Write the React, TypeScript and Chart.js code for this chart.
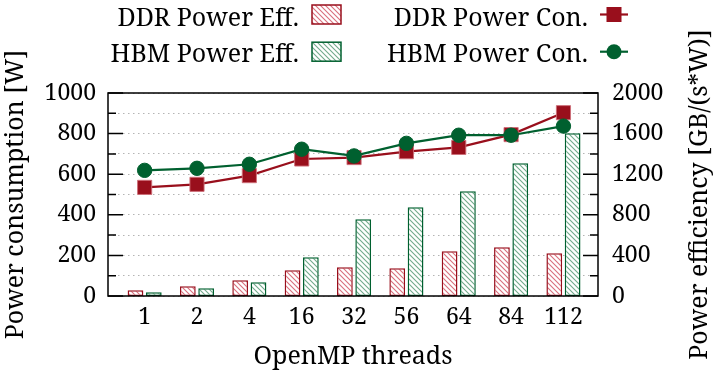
import React, { useEffect, useRef } from 'react';
import { Chart, registerables } from 'chart.js';

Chart.register(...registerables);

const threads = ['1', '2', '4', '16', '32', '56', '64', '84', '112'];
const ddrEff = [56, 96, 155, 253, 283, 273, 440, 480, 421];
const hbmEff = [36, 76, 135, 381, 756, 874, 1031, 1307, 1603];
const ddrCon = [535, 550, 593, 675, 682, 711, 732, 795, 903];
const hbmCon = [619, 629, 649, 723, 690, 752, 792, 792, 837];

const RED = '#990f1c';
const GREEN = '#00602f';
const RED_HATCH = '#d9707d';
const GREEN_HATCH = '#72aa8c';
const FONT = "'Noto Serif', serif";
const TICK_SIZE = 23;
const TITLE_SIZE = 25;

function makeHatch(color: string): CanvasPattern | string {
  const c = document.createElement('canvas');
  const s = 5;
  c.width = s;
  c.height = s;
  const g = c.getContext('2d');
  if (!g) return color;
  g.fillStyle = '#ffffff';
  g.fillRect(0, 0, s, s);
  g.strokeStyle = color;
  g.lineWidth = 1.1;
  g.beginPath();
  g.moveTo(-1, -1);
  g.lineTo(s + 1, s + 1);
  g.moveTo(s - 1, -1);
  g.lineTo(s + 1, 1);
  g.moveTo(-1, s - 1);
  g.lineTo(1, s + 1);
  g.stroke();
  const p = g.createPattern(c, 'repeat');
  return p || color;
}

const toPts = (arr: number[]) => arr.map((v, i) => ({ x: i, y: v }));

export default function App() {
  const ref = useRef<HTMLCanvasElement | null>(null);

  useEffect(() => {
    if (!ref.current) return;
    let chart: any = null;
    let cancelled = false;
    const redHatch = makeHatch(RED_HATCH);
    const greenHatch = makeHatch(GREEN_HATCH);

    const framePlugin = {
      id: 'frameTicksLegend',
      afterDraw(ch: any) {
        const ctx = ch.ctx as CanvasRenderingContext2D;
        const { left, right, top, bottom } = ch.chartArea;
        const ys = ch.scales.y;
        ctx.save();
        ctx.strokeStyle = '#000';
        ctx.lineWidth = 1.5;
        ys.ticks.forEach((t: any) => {
          const py = ys.getPixelForValue(t.value);
          const len = t.value % 200 === 0 ? 15 : 8;
          ctx.beginPath();
          ctx.moveTo(left, py);
          ctx.lineTo(left + len, py);
          ctx.moveTo(right, py);
          ctx.lineTo(right - len, py);
          ctx.stroke();
        });
        ctx.strokeRect(left, top, right - left, bottom - top);

        ctx.fillStyle = '#000';
        ctx.font = `${TITLE_SIZE}px ${FONT}`;
        ctx.textAlign = 'center';
        ctx.textBaseline = 'middle';
        ctx.translate(700, (top + bottom) / 2);
        ctx.rotate(-Math.PI / 2);
        ctx.fillText('Power efficiency [GB/(s*W)]', 0, 0);
        ctx.restore();

        ctx.save();
        ctx.fillStyle = '#000';
        ctx.textAlign = 'right';
        ctx.textBaseline = 'alphabetic';
        ctx.font = `${TITLE_SIZE}px ${FONT}`;
        const ds = ch.data.datasets;
        const rows = [
          { base: 26, mid: 14.5 },
          { base: 62, mid: 51.7 },
        ];
        const barSets = [ds[2], ds[3]];
        barSets.forEach((d: any, i: number) => {
          const r = rows[i];
          ctx.fillStyle = '#000';
          ctx.fillText(d.label, 299, r.base);
          ctx.fillStyle = d.backgroundColor;
          ctx.fillRect(312, r.mid - 9.5, 29, 19);
          ctx.strokeStyle = d.borderColor;
          ctx.lineWidth = 1.5;
          ctx.strokeRect(312, r.mid - 9.5, 29, 19);
        });
        const lineSets = [ds[0], ds[1]];
        lineSets.forEach((d: any, i: number) => {
          const r = rows[i];
          ctx.fillStyle = '#000';
          ctx.fillText(d.label, 588, r.base);
          ctx.strokeStyle = d.borderColor;
          ctx.lineWidth = 2.2;
          ctx.beginPath();
          ctx.moveTo(600, r.mid);
          ctx.lineTo(628, r.mid);
          ctx.stroke();
          ctx.fillStyle = d.pointBackgroundColor;
          if (d.pointStyle === 'rect') {
            ctx.fillRect(614 - 7.5, r.mid - 7.5, 15, 15);
          } else {
            ctx.beginPath();
            ctx.arc(614, r.mid, 7.5, 0, Math.PI * 2);
            ctx.fill();
          }
        });
        ctx.restore();
      },
    };

    const build = () => {
      if (cancelled || !ref.current) return;
      chart = new Chart(ref.current, {
        type: 'bar',
        data: {
          datasets: [
            {
              type: 'line',
              label: 'DDR Power Con.',
              data: toPts(ddrCon),
              yAxisID: 'y',
              xAxisID: 'x',
              borderColor: RED,
              backgroundColor: RED,
              borderWidth: 2.2,
              pointStyle: 'rect',
              pointRadius: 10,
              pointBackgroundColor: RED,
              pointBorderColor: 'rgba(205,110,120,0.9)',
              pointBorderWidth: 1,
              order: 1,
            } as any,
            {
              type: 'line',
              label: 'HBM Power Con.',
              data: toPts(hbmCon),
              yAxisID: 'y',
              xAxisID: 'x',
              borderColor: GREEN,
              backgroundColor: GREEN,
              borderWidth: 2.2,
              pointStyle: 'circle',
              pointRadius: 7.2,
              pointBackgroundColor: GREEN,
              pointBorderColor: GREEN,
              pointBorderWidth: 1,
              order: 0,
            } as any,
            {
              type: 'bar',
              label: 'DDR Power Eff.',
              data: toPts(ddrEff),
              yAxisID: 'y1',
              xAxisID: 'x',
              backgroundColor: redHatch as any,
              borderColor: RED,
              borderWidth: 1.5,
              borderSkipped: false,
              categoryPercentage: 0.7,
              barPercentage: 0.86,
              order: 3,
            } as any,
            {
              type: 'bar',
              label: 'HBM Power Eff.',
              data: toPts(hbmEff),
              yAxisID: 'y1',
              xAxisID: 'x',
              backgroundColor: greenHatch as any,
              borderColor: GREEN,
              borderWidth: 1.5,
              borderSkipped: false,
              categoryPercentage: 0.7,
              barPercentage: 0.86,
              order: 3,
            } as any,
          ],
        },
        options: {
          animation: false,
          responsive: false,
          devicePixelRatio: 1,
          layout: { padding: { top: 93, left: 0, right: 0, bottom: 0 } },
          plugins: {
            legend: { display: false },
            tooltip: { enabled: false },
          },
          scales: {
            x: {
              type: 'linear',
              position: 'bottom',
              offset: false,
              min: -0.7,
              max: 8.66,
              grid: { display: false, offset: false, drawTicks: false },
              border: { display: false },
              afterBuildTicks: (axis: any) => {
                axis.ticks = threads.map((_, i) => ({ value: i }));
              },
              afterFit: (s: any) => {
                s.height = 76;
              },
              ticks: {
                autoSkip: false,
                maxRotation: 0,
                padding: 8,
                color: '#000',
                font: { family: FONT, size: TICK_SIZE },
                callback: (v: any) => threads[Number(v)] ?? '',
              },
              title: {
                display: true,
                text: 'OpenMP threads',
                color: '#000',
                font: { family: FONT, size: TITLE_SIZE },
                padding: { top: 0, bottom: 0 },
              },
            },
            y: {
              type: 'linear',
              position: 'left',
              min: 0,
              max: 1000,
              grid: {
                color: '#b4b4b4',
                lineWidth: 1,
                drawTicks: false,
              },
              border: { display: false, dash: [1.5, 3.5] },
              afterFit: (s: any) => {
                s.width = 108;
              },
              ticks: {
                stepSize: 100,
                autoSkip: false,
                padding: 12,
                color: '#000',
                font: { family: FONT, size: TICK_SIZE },
                callback: (v: any) => (Number(v) % 200 === 0 ? String(v) : ''),
              },
              title: {
                display: true,
                text: 'Power consumption [W]',
                color: '#000',
                font: { family: FONT, size: TITLE_SIZE },
                padding: { top: 1, bottom: 0 },
              },
            },
            y1: {
              type: 'linear',
              position: 'right',
              min: 0,
              max: 2000,
              grid: { display: false, drawOnChartArea: false, drawTicks: false },
              border: { display: false },
              afterFit: (s: any) => {
                s.width = 119;
              },
              ticks: {
                stepSize: 200,
                autoSkip: false,
                padding: 14,
                color: '#000',
                font: { family: FONT, size: TICK_SIZE },
                callback: (v: any) => (Number(v) % 400 === 0 ? String(v) : ''),
              },
            },
          },
        },
        plugins: [framePlugin],
      } as any);
    };

    const fontsApi: any = (document as any).fonts;
    if (fontsApi && fontsApi.load) {
      Promise.all([fontsApi.load(`${TITLE_SIZE}px "Noto Serif"`)])
        .catch(() => null)
        .then(() => build());
    } else {
      build();
    }

    return () => {
      cancelled = true;
      if (chart) chart.destroy();
    };
  }, []);

  return (
    <div style={{ position: 'fixed', left: 0, top: 0, width: 717, height: 372, background: '#fff' }}>
      <canvas ref={ref} width={717} height={372} style={{ display: 'block' }} />
    </div>
  );
}
